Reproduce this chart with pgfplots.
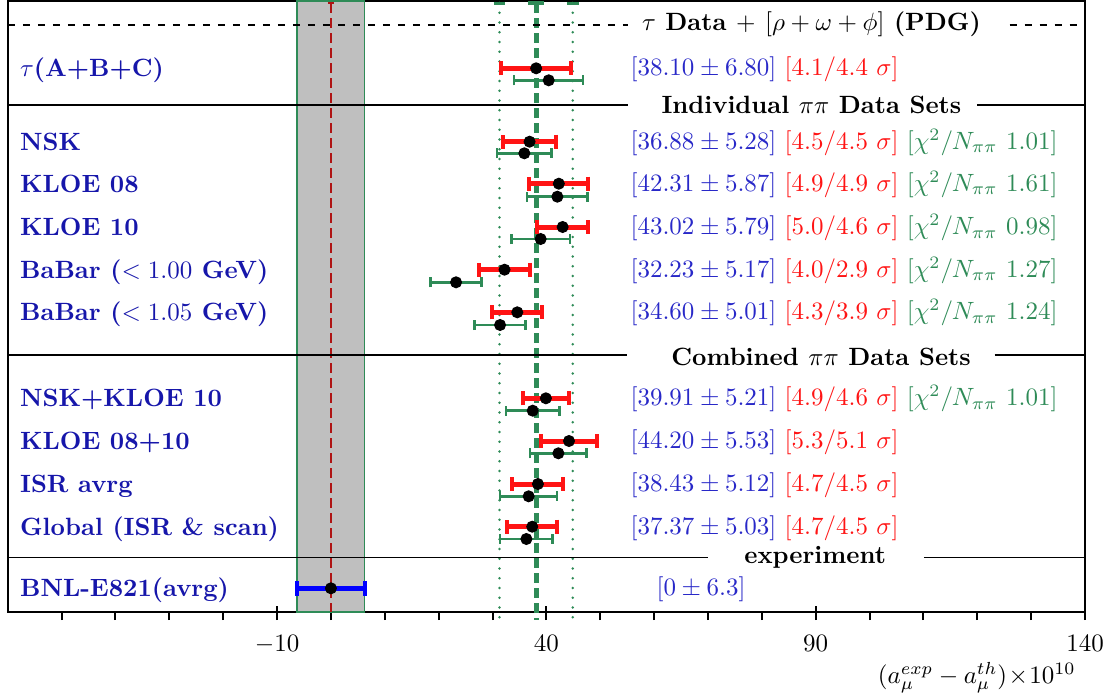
\documentclass[border=0pt]{standalone}
\usepackage{pgfplots}
\pgfplotsset{compat=1.18}
\definecolor{sgreen}{RGB}{46,139,87}
\definecolor{lblue}{RGB}{22,22,170}
\definecolor{vblue}{RGB}{40,40,200}
\definecolor{dred}{RGB}{175,20,20}
\definecolor{bred}{RGB}{255,20,20}
\newcommand{\V}[2]{\textcolor{vblue}{$[#1]$} \textcolor{bred}{$[#2\ \sigma]$}}
\newcommand{\C}[1]{ \textcolor{sgreen}{$[\chi^2/N_{\pi\pi}\ #1]$}}
\pgfplotstableread{
x y e
38.10 68.3 6.45
36.88 141.7 4.92
42.31 183.7 5.48
43.02 227.0 4.79
32.23 269.7 4.74
34.60 312.3 4.61
39.91 398.3 4.34
44.20 441.0 5.16
38.43 484.0 4.74
37.37 526.7 4.67
}\redtab
\pgfplotstableread{
x y e
40.43 80.3 6.41
35.91 153.3 5.07
42.04 196.7 5.63
38.94 239.0 5.42
23.23 282.3 4.71
31.40 325.0 4.71
37.46 410.7 4.95
42.23 453.3 5.23
36.71 496.3 5.29
36.29 539.0 4.86
}\greentab
\begin{document}
\begin{tikzpicture}
\tikzset{lab/.style={anchor=base west, inner sep=0pt, text=lblue, font=\bfseries},
 val/.style={anchor=base west, inner sep=0pt},
 hdr/.style={anchor=base, inner sep=0pt, font=\bfseries}}
\begin{axis}[name=ax, scale only axis, width=430.9pt, height=244.4pt,
 xmin=-60, xmax=140, ymin=1, ymax=612, y dir=reverse,
 xtick={-10,40,90,140},
 minor xtick={-50,-40,-30,-20,0,10,20,30,50,60,70,80,100,110,120,130},
 xtick pos=bottom, ytick=\empty,
 tick align=outside, major tick length=3.2pt, minor tick length=3.2pt,
 tick style={black, line width=0.8pt},
 extra x ticks={-10,40,90,140}, extra x tick labels={},
 extra x tick style={tick align=inside, major tick length=2.4pt},
 x tick label style={yshift=-2.5pt},
 axis line style={line width=1pt},
 clip=false,
 xlabel={$(a_\mu^{exp}-a_\mu^{th})\!\times\!10^{10}$},
 xlabel style={at={(axis description cs:0.8995,0)}, anchor=north, yshift=-16.5pt},
]
% gray band
\addplot[fill=lightgray, draw=sgreen, line width=0.5pt] coordinates {(-6.3,1) (6.3,1) (6.3,612) (-6.3,612)} -- cycle;
% vertical reference lines
\addplot[dred, line width=0.6pt, dash pattern=on 4pt off 2pt] coordinates {(0,3) (0,612)};
\addplot[dred, line width=1pt] coordinates {(-0.55,3) (0.55,3)};
\addplot[sgreen, line width=1.15pt, line cap=round, dash pattern=on 0pt off 3.9pt] coordinates {(31.3,3) (31.3,620)};
\addplot[sgreen, line width=1.15pt, line cap=round, dash pattern=on 0pt off 3.9pt] coordinates {(44.9,3) (44.9,620)};
\addplot[sgreen, line width=1.2pt] coordinates {(30.2,3) (32.4,3)};
\addplot[sgreen, line width=1.2pt] coordinates {(43.8,3) (46.0,3)};
\addplot[sgreen, line width=1.9pt, dash pattern=on 4pt off 2pt] coordinates {(38.1,3) (38.1,620)};
\addplot[sgreen, line width=1.4pt] coordinates {(36.6,3) (39.6,3)};
% separators
\addplot[black, line width=0.6pt, dashed] coordinates {(-60,25) (55.2,25)};
\addplot[black, line width=0.6pt, dashed] coordinates {(126.0,25) (140,25)};
\addplot[black, line width=0.6pt] coordinates {(-60,105) (55.2,105)};
\addplot[black, line width=0.6pt] coordinates {(120.0,105) (140,105)};
\addplot[black, line width=0.6pt] coordinates {(-60,355) (54.9,355)};
\addplot[black, line width=0.6pt] coordinates {(123.2,355) (140,355)};
\addplot[black, line width=0.6pt] coordinates {(-60,557.3) (70.0,557.3)};
\addplot[black, line width=0.6pt] coordinates {(110.1,557.3) (140,557.3)};
% green error bars
\addplot[black, only marks, mark=*, mark size=2.2pt,
 error bars/.cd, x dir=both, x explicit,
 error bar style={sgreen, line width=1pt},
 error mark options={sgreen, line width=1pt, mark size=2pt, rotate=90}]
 table[x=x, y=y, x error=e] {\greentab};
% red error bars
\addplot[black, only marks, mark=*, mark size=2.2pt,
 error bars/.cd, x dir=both, x explicit,
 error bar style={bred, line width=2pt},
 error mark options={bred, line width=1.6pt, mark size=2.8pt, rotate=90}]
 table[x=x, y=y, x error=e] {\redtab};
% BNL
\addplot[black, only marks, mark=*, mark size=2.2pt,
 error bars/.cd, x dir=both, x explicit,
 error bar style={blue, line width=2pt},
 error mark options={blue, line width=1.6pt, mark size=3pt, rotate=90}]
 coordinates {(0,588.3) +- (6.3,0)};
% headers
\node[hdr, fill=white] at (axis cs:89.2,30.7) {$\tau$ Data $+$ $[\rho+\omega+\phi]$ (PDG)};
\node[hdr] at (axis cs:89.2,113.3) {Individual $\pi\pi$ Data Sets};
\node[hdr] at (axis cs:91.0,365) {Combined $\pi\pi$ Data Sets};
\node[hdr] at (axis cs:89.9,563.3) {experiment};
% left labels
\node[lab] at (axis cs:-57.8,76.8) {$\tau$(A+B+C)};
\node[lab] at (axis cs:-57.8,150.2) {NSK};
\node[lab] at (axis cs:-57.8,192.2) {KLOE 08};
\node[lab] at (axis cs:-57.8,235.5) {KLOE 10};
\node[lab] at (axis cs:-57.8,278.2) {BaBar ($<1.00$ GeV)};
\node[lab] at (axis cs:-57.8,320.8) {BaBar ($<1.05$ GeV)};
\node[lab] at (axis cs:-57.8,406.8) {NSK+KLOE 10};
\node[lab] at (axis cs:-57.8,449.5) {KLOE 08+10};
\node[lab] at (axis cs:-57.8,492.5) {ISR avrg};
\node[lab] at (axis cs:-57.8,535.2) {Global (ISR \& scan)};
\node[lab] at (axis cs:-57.8,596.8) {BNL-E821(avrg)};
% values
\node[val] at (axis cs:55.54,75.8) {\V{38.10\pm 6.80}{4.1/4.4}};
\node[val] at (axis cs:55.54,149.2) {\V{36.88\pm 5.28}{4.5/4.5}\C{1.01}};
\node[val] at (axis cs:55.54,191.2) {\V{42.31\pm 5.87}{4.9/4.9}\C{1.61}};
\node[val] at (axis cs:55.54,234.5) {\V{43.02\pm 5.79}{5.0/4.6}\C{0.98}};
\node[val] at (axis cs:55.54,277.2) {\V{32.23\pm 5.17}{4.0/2.9}\C{1.27}};
\node[val] at (axis cs:55.54,319.8) {\V{34.60\pm 5.01}{4.3/3.9}\C{1.24}};
\node[val] at (axis cs:55.54,405.8) {\V{39.91\pm 5.21}{4.9/4.6}\C{1.01}};
\node[val] at (axis cs:55.54,448.5) {\V{44.20\pm 5.53}{5.3/5.1}};
\node[val] at (axis cs:55.54,491.5) {\V{38.43\pm 5.12}{4.7/4.5}};
\node[val] at (axis cs:55.54,534.2) {\V{37.37\pm 5.03}{4.7/4.5}};
\node[val, text=vblue] at (axis cs:60.37,595.8) {$[0\pm 6.3]$};
\end{axis}
\pgfresetboundingbox
\path ([xshift=-3.1pt,yshift=-35.2pt]ax.south west) rectangle ([xshift=9.6pt,yshift=0.4pt]ax.north east);
\end{tikzpicture}
\end{document}
